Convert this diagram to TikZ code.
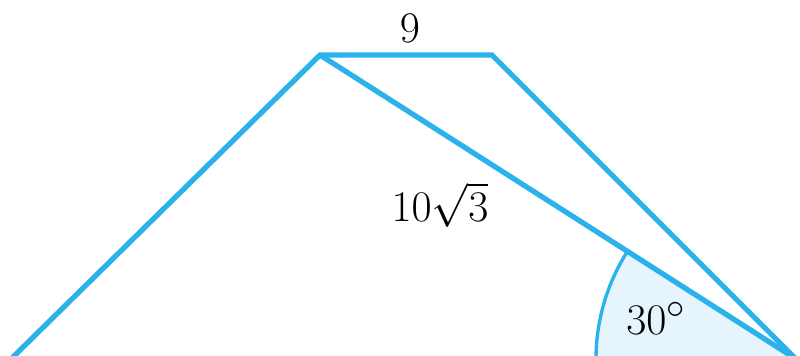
\documentclass[tikz,border=0pt]{standalone}
\usepackage{amsmath}
\usepackage{tikz}
\definecolor{edgeblue}{RGB}{43,178,234}
\definecolor{sectorblue}{RGB}{230,245,253}

\begin{document}
\begin{tikzpicture}[every node/.style={font=\Huge},
  side/.style={edgeblue, line width=3pt, line join=miter},
  anglemark/.style={edgeblue, line width=1.9pt}]
  \clip (0,0) rectangle (16,7.1);
  \coordinate (A) at (6.40,6.00);
  \coordinate (B) at (9.84,6.00);
  \coordinate (C) at (15.92,-0.08);
  \coordinate (D) at (0.22,-0.08);
  % angle at C
  \fill[sectorblue] (C) -- ++(147.4:4.0) arc[start angle=147.4, end angle=180, radius=4.0] -- cycle;
  \draw[anglemark] (C) ++(147.4:4.0) arc[start angle=147.4, end angle=180, radius=4.0];
  \draw[side] (D) -- (A) -- (B) -- (C) -- cycle;
  \draw[side] (A) -- (C);
  \node (top) at (8.20,6.54) {$9$};
  \node (diag) at (8.80,3.00) {$10\sqrt{3}$};
  \node (ang) at (13.12,0.74) {$30^\circ$};
\end{tikzpicture}
\end{document}
